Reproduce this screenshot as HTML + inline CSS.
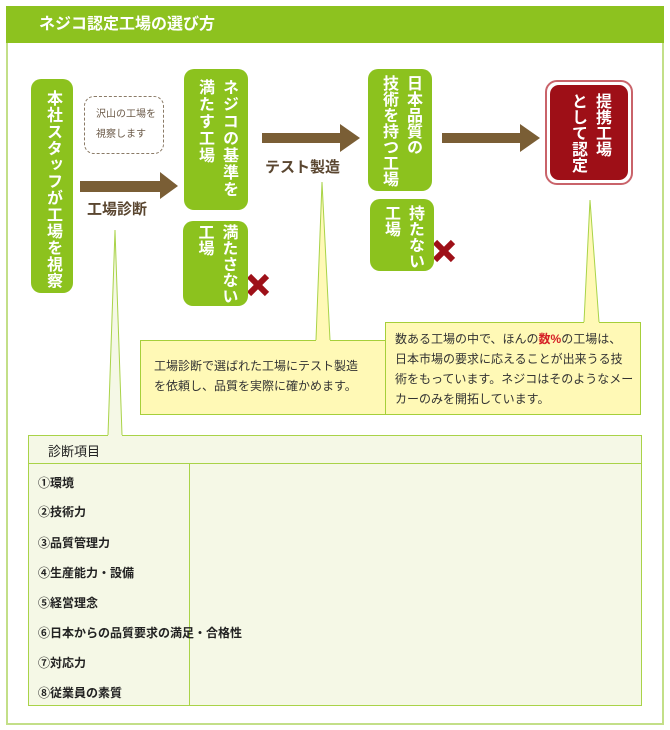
<!DOCTYPE html>
<html><head><meta charset="utf-8"><style>
body{margin:0;width:670px;height:730px;background:#fff;position:relative;font-family:"Liberation Sans","Noto Sans CJK JP",sans-serif;overflow:hidden}
.a{position:absolute;box-sizing:border-box}
.g{background:#8cc21e;border-radius:10px;color:#fff;font-weight:bold;font-size:16px;display:flex;align-items:flex-start;justify-content:center;padding-top:10px}
.g span{writing-mode:vertical-rl;line-height:24px;letter-spacing:1px;white-space:nowrap}
.cal{background:#fff9b6;border:1px solid #a6cf3a;font-size:12px;color:#333;line-height:20px}
.item{position:absolute;left:38px;font-size:12px;font-weight:bold;color:#222}
.lbl{position:absolute;font-size:15px;font-weight:bold;color:#5a4630}
</style></head><body>
<div class="a" style="left:6px;top:6px;width:658px;height:719px;border:2px solid #c3df88"></div>
<div class="a" style="left:6px;top:6px;width:658px;height:37px;background:#8dc21f;color:#fff;font-weight:bold;font-size:16px;line-height:37px;padding-left:33px">ネジコ認定工場の選び方</div>

<svg class="a" style="left:0;top:0" width="670" height="730">
<polygon points="80,181 160,181 160,172 178,186 160,199 160,192 80,192" fill="#7a5e35"/>
<polygon points="262,133 340,133 340,124 360,138 340,152 340,143 262,143" fill="#7a5e35"/>
<polygon points="442,133 520,133 520,124 540,138 520,152 520,143 442,143" fill="#7a5e35"/>
<g stroke="#9e1018" stroke-width="6"><line x1="249" y1="276" x2="267" y2="294"/><line x1="267" y1="276" x2="249" y2="294"/>
<line x1="435" y1="242" x2="453" y2="260"/><line x1="453" y1="242" x2="435" y2="260"/></g>
</svg>

<div class="a g" style="left:31px;top:79px;width:42px;height:214px;padding-top:11px"><span style="letter-spacing:0.6px">本社スタッフが工場を視察</span></div>
<div class="a" style="left:84px;top:96px;width:80px;height:58px;border:1px dashed #8a7a66;border-radius:10px;font-size:10px;color:#6b5a48;line-height:20px;padding:8px 0 0 11px">沢山の工場を<br>視察します</div>
<div class="lbl" style="left:87px;top:198px">工場診断</div>
<div class="a g" style="left:184px;top:69px;width:64px;height:141px"><span>ネジコの基準を<br>満たす工場</span></div>
<div class="a g" style="left:183px;top:221px;width:65px;height:85px;padding-top:3px"><span style="letter-spacing:0">満たさない<br>工場</span></div>
<div class="lbl" style="left:265px;top:156px">テスト製造</div>
<div class="a g" style="left:368px;top:69px;width:64px;height:122px;padding-top:6px"><span style="letter-spacing:0">日本品質の<br>技術を持つ工場</span></div>
<div class="a g" style="left:370px;top:199px;width:64px;height:72px;padding-top:6px"><span style="letter-spacing:0">持たない<br>工場</span></div>
<div class="a" style="left:545px;top:80px;width:88px;height:105px;border:2px solid #c9636a;border-radius:12px;background:#fff;padding:3px">
<div class="g" style="background:#9e0f17;border-radius:9px;width:100%;height:100%;box-sizing:border-box;padding-top:8px"><span style="letter-spacing:0">提携工場<br>として認定</span></div></div>

<div class="a cal" style="left:140px;top:340px;width:248px;height:75px;padding:15px 0 0 13px">工場診断で選ばれた工場にテスト製造<br>を依頼し、品質を実際に確かめます。</div>
<div class="a cal" style="left:385px;top:322px;width:256px;height:93px;padding:6px 0 0 9px">数ある工場の中で、ほんの<b style="color:#d52026">数%</b>の工場は、<br>日本市場の要求に応えることが出来うる技<br>術をもっています。ネジコはそのようなメー<br>カーのみを開拓しています。</div>

<div class="a" style="left:28px;top:435px;width:614px;height:271px;background:#f5f8e6;border:1px solid #a9d348"></div>
<div class="a" style="left:28px;top:463px;width:614px;height:1px;background:#a9d348"></div>
<div class="a" style="left:189px;top:463px;width:1px;height:243px;background:#a9d348"></div>
<div class="a" style="left:48px;top:441px;font-size:13px;color:#222">診断項目</div>
<div class="item" style="top:474px">①環境</div>
<div class="item" style="top:503px">②技術力</div>
<div class="item" style="top:534px">③品質管理力</div>
<div class="item" style="top:564px">④生産能力・設備</div>
<div class="item" style="top:594px">⑤経営理念</div>
<div class="item" style="top:624px">⑥日本からの品質要求の満足・合格性</div>
<div class="item" style="top:654px">⑦対応力</div>
<div class="item" style="top:684px">⑧従業員の素質</div>

<svg class="a" style="left:0;top:0" width="670" height="730">
<polygon points="115,230 108,436 122,436" fill="#f5f8e6"/><polyline points="108,435 115,230 122,435" fill="none" stroke="#a9d348"/>
<polygon points="322,182 316,341 330,341" fill="#fff9b6"/><polyline points="316,340 322,182 330,340" fill="none" stroke="#a9d348"/>
<polygon points="590,200 584,323 599,323" fill="#fff9b6"/><polyline points="584,322 590,200 599,322" fill="none" stroke="#a9d348"/>
</svg>
</body></html>
